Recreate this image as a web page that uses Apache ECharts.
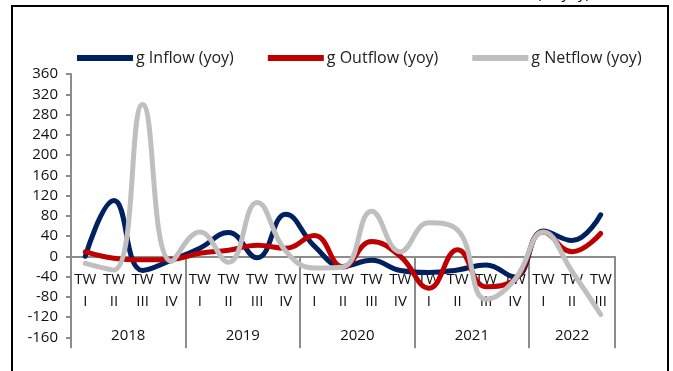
<!DOCTYPE html>
<html><head><meta charset="utf-8">
<script src="https://cdn.jsdelivr.net/npm/echarts@6/dist/echarts.min.js"></script>
<style>html,body{margin:0;padding:0;background:#fff}#c{width:673px;height:371px}</style>
</head><body><div id="c"></div>
<script>
const quarters = ['TW\nI','TW\nII','TW\nIII','TW\nIV','TW\nI','TW\nII','TW\nIII','TW\nIV','TW\nI','TW\nII','TW\nIII','TW\nIV','TW\nI','TW\nII','TW\nIII','TW\nIV','TW\nI','TW\nII','TW\nIII'];
const years = ['2018','2019','2020','2021','2022'];
const yearCenters = [2, 6, 10, 14, 17.5];
const yearBounds = [0, 4, 8, 12, 16, 19];
const inflow  = [0, 110, -28, -8, 16, 47, -3, 83, 20, -20, -8, -28, -32, -27, -17, -41, 50, 31, 82];
const outflow = [9, -4, -7, -6, 6, 12, 22, 16, 41, -21, 29, 0, -63, 13, -60, -46, 48, 9, 45];
const netflow = [-14, -27, 300, -10, 48, -12, 106, 10, -23, -21, 89, 9, 66, 52, -85, -46, 48, -30, -115];

const FONT = "'Open Sans', 'Noto Sans', sans-serif";
const axisGray = '#8c8c8c';
const chart = echarts.init(document.getElementById('c'));
function line(name, data, color, z) {
  return {name, type:'line', data, smooth:0.45, symbol:'none', z, xAxisIndex:0, yAxisIndex:0,
    lineStyle:{color, width:5, cap:'round', join:'round'}, itemStyle:{color}};
}
chart.setOption({
  animation:false,
  textStyle:{fontFamily:FONT},
  graphic:[
    {type:'rect', shape:{x:12, y:6, width:656, height:400}, style:{fill:'none', stroke:'#000', lineWidth:2}, silent:true},
    {type:'text', x:590, y:1, style:{text:'(%, yoy)', align:'right', verticalAlign:'bottom', fontSize:15, fontFamily:FONT, fill:'#000'}}
  ],
  legend:{left:77, top:50, padding:0, itemWidth:56, itemHeight:6, itemGap:34, icon:'rect',
    textStyle:{fontSize:16, color:'#222', fontFamily:FONT, padding:[0,0,0,-2]},
    data:['g Inflow (yoy)','g Outflow (yoy)','g Netflow (yoy)']},
  grid:[
    {left:71, right:58, top:74, bottom:33.7, containLabel:false, outerBoundsMode:'none'},
    {left:71, right:58, top:74, height:182.3, containLabel:false, outerBoundsMode:'none'}
  ],
  xAxis:[
    {type:'category', gridIndex:0, data:quarters, boundaryGap:true, show:false},
    {type:'category', gridIndex:1, data:quarters, boundaryGap:true, position:'bottom',
     axisLine:{onZero:false, lineStyle:{color:axisGray, width:2}},
     axisTick:{length:57, lineStyle:{color:axisGray, width:2}},
     axisLabel:{interval:0, margin:12, fontSize:15, lineHeight:22, color:'#111', fontFamily:FONT}},
    {type:'value', gridIndex:1, min:0, max:19, position:'bottom',
     axisLine:{show:false, onZero:false},
     splitLine:{show:false},
     axisTick:{show:true, length:92, customValues:yearBounds, lineStyle:{color:axisGray, width:2}},
     axisLabel:{show:true, customValues:yearCenters, margin:72, fontSize:15, color:'#111', fontFamily:FONT,
       formatter:(v)=>{const i=yearCenters.indexOf(v); return i>=0?years[i]:'';}}}
  ],
  yAxis:[
    {type:'value', gridIndex:0, min:-160, max:360, interval:40,
     axisLine:{show:true, onZero:false, lineStyle:{color:axisGray, width:2}},
     axisTick:{show:true, length:5, lineStyle:{color:axisGray, width:2}},
     splitLine:{show:false},
     axisLabel:{margin:13, fontSize:15, color:'#111', fontFamily:FONT}},
    {type:'value', gridIndex:1, min:0, max:1, show:false}
  ],
  series:[
    line('g Inflow (yoy)', inflow, '#002060', 3),
    line('g Outflow (yoy)', outflow, '#c00000', 4),
    line('g Netflow (yoy)', netflow, '#bfbfbf', 5)
  ]
});
</script></body></html>
